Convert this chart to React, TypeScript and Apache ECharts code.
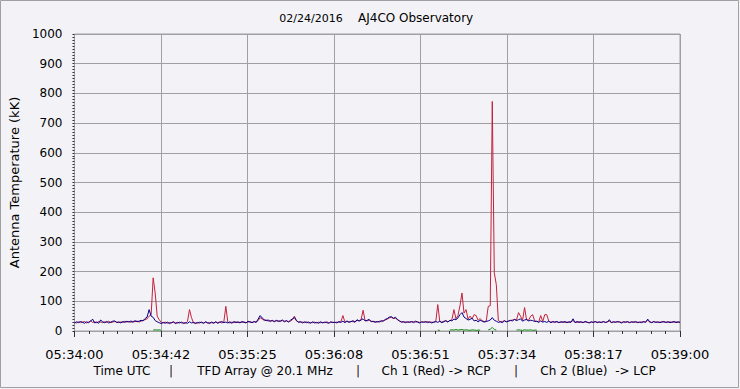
import React, { useEffect, useRef } from "react";
import * as echarts from "echarts";

// Time base: one sample per second starting at 05:34:00 UTC (index = seconds)
const xTickLabels = ["05:34:00", "05:34:42", "05:35:25", "05:36:08", "05:36:51", "05:37:34", "05:38:17", "05:39:00"];
const totalSeconds = 300;

// Ch 2 (Blue) -> LCP, antenna temperature in kK, one value per second
const blueValues = [
  27, 31, 28, 32, 29, 26, 31, 28, 33, 40, 27, 30, 26, 37, 31, 28, 32, 27, 30, 33,
  34, 28, 31, 27, 32, 29, 33, 30, 34, 29, 35, 31, 33, 36, 34, 42, 47, 72, 50, 46,
  35, 31, 28, 25, 29, 26, 30, 25, 28, 31, 25, 29, 27, 30, 25, 28, 26, 31, 27, 29,
  25, 29, 27, 30, 26, 31, 28, 25, 30, 27, 31, 26, 29, 32, 28, 30, 27, 31, 26, 32,
  28, 31, 27, 32, 29, 27, 33, 30, 28, 32, 29, 40, 52, 44, 38, 35, 37, 32, 36, 31,
  36, 32, 34, 37, 31, 35, 30, 36, 41, 45, 35, 29, 32, 27, 31, 28, 30, 26, 31, 27,
  29, 26, 31, 27, 30, 28, 26, 31, 28, 30, 27, 32, 29, 33, 28, 34, 30, 31, 35, 29,
  38, 33, 37, 41, 34, 36, 39, 31, 33, 29, 32, 30, 35, 33, 39, 42, 47, 48, 43, 46,
  40, 33, 30, 32, 28, 31, 29, 32, 28, 33, 30, 27, 31, 29, 32, 28, 31, 27, 30, 32,
  29, 33, 28, 31, 35, 30, 36, 34, 40, 38, 44, 55, 62, 47, 42, 37, 39, 43, 34, 36,
  31, 36, 33, 30, 32, 34, 37, 45, 36, 33, 29, 31, 28, 34, 31, 33, 36, 34, 39, 35,
  38, 41, 33, 37, 39, 34, 36, 35, 32, 33, 29, 34, 30, 32, 29, 33, 28, 31, 30, 32,
  28, 31, 29, 32, 28, 31, 29, 41, 28, 32, 29, 31, 28, 32, 30, 27, 31, 29, 32, 28,
  31, 28, 32, 29, 30, 38, 28, 31, 29, 32, 30, 27, 31, 29, 32, 28, 31, 29, 32, 28,
  30, 28, 32, 29, 40, 31, 28, 32, 29, 31, 28, 30, 32, 29, 31, 28, 30, 32, 28, 31, 29,
];

// Ch 1 (Red) -> RCP
const redValues = [
  29, 27, 31, 28, 30, 32, 27, 30, 34, 29, 31, 28, 32, 30, 28, 31, 29, 33, 28, 30,
  32, 30, 28, 31, 29, 33, 30, 32, 29, 33, 31, 34, 30, 33, 36, 38, 41, 50, 55, 179,
  128, 50, 38, 29, 27, 30, 26, 29, 27, 30, 28, 26, 30, 27, 29, 26, 32, 72, 45, 27,
  28, 26, 30, 28, 27, 30, 26, 29, 28, 26, 30, 28, 31, 27, 30, 83, 29, 27, 30, 28,
  31, 28, 30, 29, 31, 28, 30, 32, 29, 31, 30, 35, 45, 40, 36, 37, 33, 35, 34, 33,
  34, 35, 32, 35, 33, 34, 32, 33, 38, 50, 34, 31, 29, 30, 28, 31, 27, 29, 28, 30,
  27, 30, 28, 29, 28, 31, 28, 29, 30, 28, 30, 29, 31, 52, 30, 32, 29, 33, 31, 32,
  36, 35, 38, 70, 35, 34, 37, 33, 31, 32, 30, 33, 31, 35, 37, 40, 44, 46, 42, 43,
  38, 34, 31, 29, 31, 29, 31, 30, 32, 30, 31, 29, 30, 31, 29, 32, 29, 30, 29, 31,
  89, 32, 30, 33, 34, 31, 35, 38, 72, 41, 52, 85, 128, 60, 72, 40, 50, 41, 55, 52,
  36, 42, 34, 32, 33, 83, 85, 773, 196, 156, 35, 31, 32, 35, 31, 34, 35, 37, 39, 37,
  62, 50, 36, 79, 37, 36, 50, 55, 34, 32, 31, 52, 32, 55, 55, 33, 30, 32, 29, 31,
  29, 30, 31, 29, 30, 29, 31, 35, 30, 29, 31, 30, 29, 31, 29, 28, 30, 29, 31, 30,
  29, 30, 31, 29, 31, 33, 29, 30, 31, 30, 31, 29, 30, 31, 30, 29, 30, 31, 29, 30,
  29, 31, 30, 31, 36, 30, 29, 31, 30, 29, 30, 31, 30, 29, 30, 31, 29, 30, 31, 29, 30,
];

// Third (green) channel: short visible segments near zero, [second, value]
const greenSegments = [
  [[39, 3], [40, 4], [41, 3], [42, 4], [43, 2]],
  [[180, 3], [181, 2]],
  [[186, 3], [187, 4], [188, 3], [189, 5], [190, 3], [191, 4], [192, 5], [193, 3], [194, 4], [195, 3], [196, 2], [197, 4], [198, 3], [199, 2], [200, 3], [201, 3]],
  [[205, 4], [206, 6], [207, 12], [208, 5], [209, 3]],
  [[219, 3], [220, 4], [221, 3], [222, 2], [223, 4], [224, 3], [225, 3], [226, 4], [227, 2], [228, 3], [229, 3]],
];

const yMin = 0;
const yMax = 1000;
const yInterval = 100;

const titleDate = "02/24/2016";
const titleSite = "AJ4CO Observatory";
const yAxisTitle = "Antenna Temperature (kK)";
const captionParts = ["Time UTC", "|", "TFD Array @ 20.1 MHz", "|", "Ch 1 (Red) -> RCP", "|", "Ch 2 (Blue)\u00a0\u00a0-> LCP"];
const captionCenters = [122, 171, 265, 358, 436, 516, 598];

const FONT = '"DejaVu Sans", Verdana, sans-serif';
const divisions = xTickLabels.length - 1;
const toDiv = (sec: number) => (sec * divisions) / totalSeconds;

export default function App() {
  const ref = useRef<HTMLDivElement>(null);
  useEffect(() => {
    document.body.style.margin = "0";
    if (!ref.current) return;
    const chart = echarts.init(ref.current, undefined, { renderer: "svg" });

    const redData = redValues.map((v, i) => [toDiv(i), v]);
    const blueData = blueValues.map((v, i) => [toDiv(i), v]);

    const series: any[] = [
      {
        type: "line",
        data: redData,
        showSymbol: false,
        symbol: "none",
        lineStyle: { color: "#C2213C", width: 1 },
        itemStyle: { color: "#C2213C" },
        z: 2,
      },
      {
        type: "line",
        data: blueData,
        showSymbol: false,
        symbol: "none",
        lineStyle: { color: "#00008E", width: 1 },
        itemStyle: { color: "#00008E" },
        z: 3,
      },
      ...greenSegments.map((seg) => ({
        type: "line",
        data: seg.map(([t, v]) => [toDiv(t), v]),
        showSymbol: false,
        symbol: "none",
        lineStyle: { color: "#108A10", width: 1 },
        itemStyle: { color: "#108A10" },
        z: 4,
      })),
    ];

    const graphic: any[] = [
      {
        type: "rect",
        shape: { x: 0.5, y: 0.5, width: 738, height: 387 },
        style: { fill: "none", stroke: "#A0A0A0", lineWidth: 1 },
        silent: true,
      },
      {
        type: "text",
        x: 311,
        y: 18,
        style: { text: titleDate, font: `11px ${FONT}`, fill: "#000", textAlign: "center", align: "center", textVerticalAlign: "middle", verticalAlign: "middle" },
      },
      {
        type: "text",
        x: 358,
        y: 18,
        style: { text: titleSite, font: `12px ${FONT}`, fill: "#000", textAlign: "left", align: "left", textVerticalAlign: "middle", verticalAlign: "middle" },
      },
      ...captionParts.map((t, i) => ({
        type: "text",
        x: captionCenters[i],
        y: 371,
        style: {
          text: t,
          font: `12px ${FONT}`,
          fill: "#000",
          opacity: t === "|" ? 0.99 : 1,
          textAlign: "center",
          align: "center",
          textVerticalAlign: "middle",
          verticalAlign: "middle",
        },
      })),
    ];

    chart.setOption({
      animation: false,
      backgroundColor: "#F3F3F7",
      grid: {
        left: 73,
        right: 60,
        top: 34,
        bottom: 58,
        show: true,
        borderColor: "#A0A0A0",
        borderWidth: 1,
        backgroundColor: "transparent",
        containLabel: false,
      },
      xAxis: {
        type: "value",
        min: 0,
        max: divisions,
        interval: 1,
        offset: 5,
        axisLine: { show: false },
        axisTick: { show: true, length: 6, lineStyle: { color: "#303040", width: 1 } },
        minorTick: { show: true, splitNumber: 6, length: 3, lineStyle: { color: "#303040", width: 1 } },
        splitLine: { show: true, lineStyle: { color: "#A0A0A0", width: 1 } },
        minorSplitLine: { show: false },
        axisLabel: {
          margin: 12,
          color: "#000",
          fontSize: 13,
          fontFamily: FONT,
          formatter: (v: number) => xTickLabels[Math.round(v)] ?? "",
        },
      },
      yAxis: {
        type: "value",
        min: yMin,
        max: yMax,
        interval: yInterval,
        offset: 5,
        name: yAxisTitle,
        nameLocation: "middle",
        nameGap: 39,
        nameRotate: 90,
        nameTextStyle: { color: "#000", fontSize: 13, fontFamily: FONT },
        axisLine: { show: false },
        axisTick: { show: true, length: 2, lineStyle: { color: "#303040", width: 1 } },
        minorTick: { show: true, splitNumber: 10, length: 2, lineStyle: { color: "#303040", width: 1 } },
        splitLine: { show: true, lineStyle: { color: "#A0A0A0", width: 1 } },
        minorSplitLine: { show: false },
        axisLabel: { margin: 7, color: "#000", fontSize: 12, fontFamily: FONT, formatter: (v: number) => String(v) },
      },
      graphic,
      series,
    });

    return () => chart.dispose();
  }, []);

  return <div ref={ref} style={{ width: 740, height: 389 }} />;
}
